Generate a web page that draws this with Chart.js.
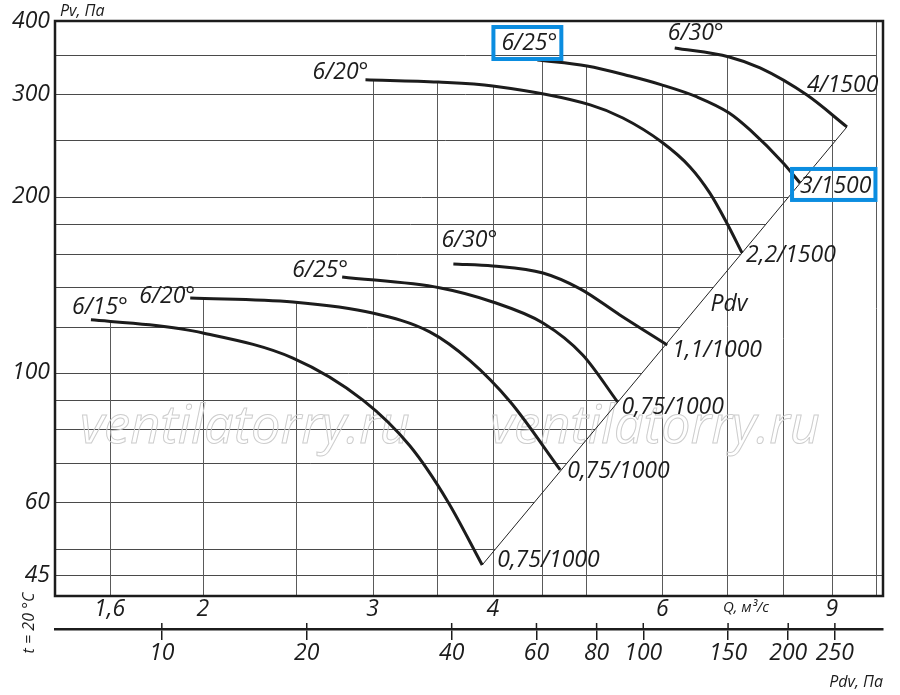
<!DOCTYPE html>
<html>
<head>
<meta charset="utf-8">
<script src="https://cdn.jsdelivr.net/npm/chart.js@4.4.1/dist/chart.umd.min.js"></script>
<style>
  html, body { margin: 0; padding: 0; background: #fff; }
  #wrap { width: 900px; height: 695px; }
</style>
</head>
<body>
<div id="wrap"><canvas id="fanChart" width="900" height="695"></canvas></div>
<script>
// Q, m3/s
const qTicks = [1.6, 2, 3, 4, 6, 9];
const qTickLabels = ['1,6', '2', '3', '4', '6', '9'];
const qGrid = [1.6, 2, 2.5, 3, 3.5, 4, 4.5, 5, 6, 7, 8, 9, 10];

// Pv, Pa
const pvTicks = [45, 60, 100, 200, 300, 400];
const pvGrid = [45, 50, 60, 70, 80, 90, 100, 120, 140, 160, 180, 200, 250, 300, 350];

// Pdv, Pa (lower axis)
const pdvTicks = [10, 20, 40, 60, 80, 100, 150, 200, 250];

// 0,75 - 1,1 kW / 1000 rpm
const q6_15 = [1.53, 1.76, 2.0, 2.48, 2.93, 3.28, 3.59, 3.90];
const pv6_15 = [123.2, 120.8, 117.0, 106.0, 89.9, 75.0, 60.3, 46.9];
const q6_20a = [1.94, 2.48, 3.0, 3.44, 3.79, 4.17, 4.70];
const pv6_20a = [134.3, 132.2, 126.6, 117.5, 104.8, 89.2, 68.2];
const q6_25a = [2.79, 3.53, 4.0, 4.51, 4.96, 5.39];
const pv6_25a = [145.9, 139.7, 132.2, 121.7, 107.3, 89.2];
const q6_30a = [3.64, 4.0, 4.51, 4.93, 5.42, 6.07];
const pv6_30a = [153.6, 152.4, 148.2, 139.2, 125.6, 111.6];

// 2,2 - 4 kW / 1500 rpm
const q6_20b = [2.95, 3.51, 4.0, 5.05, 5.46, 5.99, 6.41, 6.72, 7.0, 7.26];
const pv6_20b = [317.2, 314.4, 309.6, 287.4, 272.9, 248.3, 225.1, 203.2, 180.5, 160.4];
const q6_25b = [4.45, 5.01, 5.55, 5.99, 6.52, 7.04, 7.40, 8.01, 8.34];
const pv6_25b = [343, 335, 322, 311, 296.5, 278.4, 260.4, 228.6, 211.3];
const q6_30b = [6.18, 7.04, 7.58, 8.48, 9.33];
const pv6_30b = [359.7, 347.2, 332.5, 298.7, 263.5];

// Pdv line
const pdvLineQ = [3.90, 9.33];
const pdvLinePv = [46.9, 263.5];

const startLabels = ['6/15°', '6/20°', '6/25°', '6/30°', '6/20°', '6/25°', '6/30°'];
const endLabels = ['0,75/1000', '0,75/1000', '0,75/1000', '1,1/1000', '2,2/1500', '3/1500', '4/1500'];

// label placement relative to first / last point (px)
const labelPlace = [
    { sx: 9, sy: -12, ex: 15, ey: -5 },
    { sx: -23, sy: -2, ex: 7, ey: 2 },
    { sx: -22, sy: -6, ex: 4, ey: 6 },
    { sx: 16, sy: -23, ex: 5, ey: 5 },
    { sx: -25, sy: -7, ex: 4, ey: 3 },
    { sx: -8, sy: -17, ex: 0, ey: 3, boxStart: true },
    { sx: 21, sy: -14, ex: -40, ey: -41 }
];

const FONT = '"Open Sans", "DejaVu Sans", sans-serif';
const ink = '#1c1c1c';
const boxBlue = '#0b8de0';

Chart.defaults.font.family = FONT;
Chart.defaults.color = ink;

const pts = (qs, pvs) => qs.map((q, i) => ({ x: q, y: pvs[i] }));

const curveData = [
    pts(q6_15, pv6_15), pts(q6_20a, pv6_20a), pts(q6_25a, pv6_25a), pts(q6_30a, pv6_30a),
    pts(q6_20b, pv6_20b), pts(q6_25b, pv6_25b), pts(q6_30b, pv6_30b)
];

const datasets = curveData.map(d => ({
    data: d,
    curve: true,
    borderColor: ink,
    borderWidth: 3,
    cubicInterpolationMode: 'monotone',
    pointRadius: 0,
    fill: false
}));
datasets.push({
    data: pts(pdvLineQ, pdvLinePv),
    diag: true,
    borderColor: '#222',
    borderWidth: 1,
    pointRadius: 0,
    fill: false
});

function yOn(points, px) {
    for (let i = 1; i < points.length; i++) {
        const p0 = points[i - 1], p1 = points[i];
        if (px >= p0.x && px <= p1.x) {
            return p0.y + (p1.y - p0.y) * (px - p0.x) / (p1.x - p0.x);
        }
    }
    return null;
}

const fanPlugin = {
    id: 'fanGrid',
    beforeDatasetsDraw(chart) {
        const { ctx, chartArea: a, scales } = chart;
        const xs = scales.x, ys = scales.y;
        const metas = chart.data.datasets.map((d, i) => chart.getDatasetMeta(i));
        const curves = metas.filter((m, i) => chart.data.datasets[i].curve).map(m => m.data);
        const diag = metas[metas.length - 1].data;
        const d0 = diag[0], d1 = diag[diag.length - 1];
        const xTen = xs.getPixelForValue(10);

        ctx.save();
        ctx.lineWidth = 1;
        ctx.strokeStyle = '#4a4a4a';
        // horizontal lines, stopped at the Pdv line
        pvGrid.forEach(v => {
            const py = Math.round(ys.getPixelForValue(v)) + 0.5;
            let xEnd = xTen;
            if (py <= d0.y && py >= d1.y) {
                xEnd = d0.x + (d1.x - d0.x) * (py - d0.y) / (d1.y - d0.y);
            } else if (py > d0.y) {
                xEnd = a.right;
            }
            ctx.beginPath();
            ctx.moveTo(a.left, py);
            ctx.lineTo(xEnd, py);
            ctx.stroke();
        });
        // vertical lines, from the top curve down
        ctx.strokeStyle = '#5a5a5a';
        qGrid.forEach(q => {
            const px = Math.round(xs.getPixelForValue(q)) + 0.5;
            let top = null;
            curves.forEach(c => {
                const yy = yOn(c, px);
                if (yy !== null && (top === null || yy < top)) top = yy;
            });
            if (top === null) top = a.top;
            ctx.beginPath();
            ctx.moveTo(px, top);
            ctx.lineTo(px, a.bottom);
            ctx.stroke();
        });

        // watermark
        ctx.font = 'italic 50px ' + FONT;
        const wm = 'ventilatorry.ru';
        const size = 50 * 330 / ctx.measureText(wm).width;
        ctx.font = 'italic ' + size.toFixed(1) + 'px ' + FONT;
        ctx.strokeStyle = '#cdcdcd';
        ctx.lineWidth = 1;
        ctx.textBaseline = 'alphabetic';
        ctx.textAlign = 'left';
        ctx.strokeText(wm, 80, 443);
        ctx.strokeText(wm, 490, 443);
        ctx.restore();
    },
    afterDatasetsDraw(chart) {
        const { ctx, chartArea: a, scales } = chart;
        const x2 = scales.x2;
        ctx.save();
        // frame
        ctx.strokeStyle = ink;
        ctx.lineWidth = 2.5;
        ctx.strokeRect(a.left, a.top, a.right - a.left, a.bottom - a.top);

        // short upward part of the Pdv ticks
        ctx.lineWidth = 1.5;
        pdvTicks.forEach(v => {
            const px = x2.getPixelForValue(v);
            ctx.beginPath();
            ctx.moveTo(px, x2.top - 6);
            ctx.lineTo(px, x2.top);
            ctx.stroke();
        });

        // curve labels
        ctx.fillStyle = ink;
        ctx.font = 'italic 23px ' + FONT;
        ctx.textBaseline = 'middle';
        labelPlace.forEach((lp, i) => {
            const m = chart.getDatasetMeta(i).data;
            const p0 = m[0], p1 = m[m.length - 1];
            const sx = p0.x + lp.sx, sy = p0.y + lp.sy;
            ctx.textAlign = 'center';
            ctx.fillText(startLabels[i], sx, sy);
            const ex = p1.x + lp.ex, ey = p1.y + lp.ey;
            ctx.textAlign = 'left';
            ctx.fillText(endLabels[i], ex, ey);
            if (lp.boxStart) {
                ctx.save();
                ctx.strokeStyle = boxBlue;
                ctx.lineWidth = 4;
                const w = ctx.measureText(startLabels[i]).width;
                ctx.strokeRect(sx - w / 2 - 8, sy - 16, w + 12, 32);
                const we = ctx.measureText(endLabels[i]).width;
                ctx.strokeRect(ex - 8, ey - 17, we + 12, 31);
                ctx.restore();
            }
        });
        ctx.textAlign = 'center';
        ctx.fillText('Pdv', 729, 304);

        // axis captions
        ctx.font = 'italic 16px ' + FONT;
        ctx.textAlign = 'left';
        ctx.fillText('Pv, Па', 60, 11);
        ctx.textAlign = 'center';
        ctx.font = 'italic 15px ' + FONT;
        ctx.fillText('Q, м³/с', 746, 608);
        ctx.font = 'italic 16px ' + FONT;
        ctx.textAlign = 'right';
        ctx.fillText('Pdv, Па', 883, 682);

        ctx.translate(29, 623);
        ctx.rotate(-Math.PI / 2);
        ctx.textAlign = 'center';
        ctx.fillText('t = 20 °C', 0, 0);
        ctx.restore();
    }
};

const tickFont = { size: 23, style: 'italic' };

new Chart(document.getElementById('fanChart'), {
    type: 'line',
    data: { datasets: datasets },
    options: {
        responsive: false,
        animation: false,
        layout: { padding: { top: 21, right: 17, left: 0, bottom: 0 } },
        plugins: { legend: { display: false }, tooltip: { enabled: false } },
        scales: {
            x: {
                type: 'logarithmic',
                position: 'bottom',
                weight: 0,
                min: 1.404,
                max: 10.17,
                grid: { display: false, drawTicks: false },
                border: { display: false },
                afterBuildTicks: s => { s.ticks = qTicks.map(v => ({ value: v })); },
                afterFit: s => { s.height = 33; },
                ticks: {
                    autoSkip: false, maxRotation: 0, padding: 0, font: tickFont, color: ink,
                    callback: v => { const i = qTicks.indexOf(v); return i < 0 ? '' : qTickLabels[i]; }
                }
            },
            x2: {
                type: 'logarithmic',
                position: 'bottom',
                weight: 1,
                min: 6.0,
                max: 314.7,
                grid: { display: true, drawOnChartArea: false, drawTicks: true, tickLength: 11, color: ink, lineWidth: 1.5 },
                border: { display: true, width: 2.5, color: ink },
                afterBuildTicks: s => { s.ticks = pdvTicks.map(v => ({ value: v })); },
                afterFit: s => { s.height = 66; },
                ticks: {
                    autoSkip: false, maxRotation: 0, padding: 0, font: tickFont, color: ink,
                    callback: v => String(v)
                }
            },
            y: {
                type: 'logarithmic',
                min: 41.5,
                max: 400,
                grid: { display: false, drawTicks: false },
                border: { display: false },
                afterBuildTicks: s => { s.ticks = pvTicks.map(v => ({ value: v })); },
                afterFit: s => { s.width = 55; },
                ticks: {
                    autoSkip: false, padding: 5, font: tickFont, color: ink,
                    callback: v => String(v)
                }
            }
        }
    },
    plugins: [fanPlugin]
});
</script>
</body>
</html>
